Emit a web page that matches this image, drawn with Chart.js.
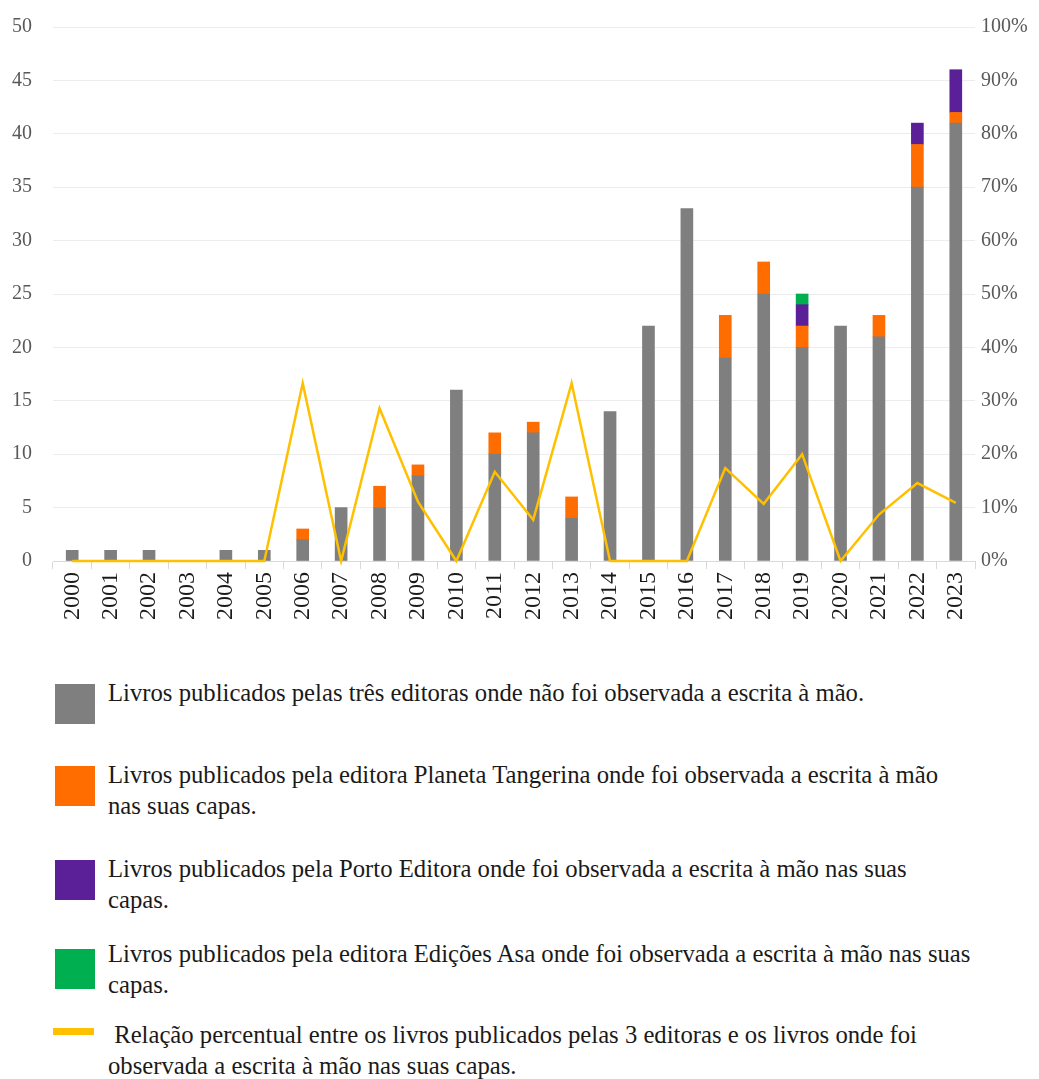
<!DOCTYPE html>
<html>
<head>
<meta charset="utf-8">
<script src="https://cdn.jsdelivr.net/npm/chart.js@4/dist/chart.umd.min.js"></script>
<style>
  body { margin: 0; background: #fff; font-family: "Liberation Serif", "Times New Roman", serif; }
  #wrap { position: relative; width: 1039px; height: 1079px; overflow: hidden; }
  #chart-box { position: absolute; left: 0; top: 0; width: 1039px; height: 640px; }
  .sw { position: absolute; left: 55px; width: 40px; height: 40px; }
  .lt { position: absolute; left: 108px; font-size: 24.7px; line-height: 31px; color: #1a1a1a; white-space: nowrap; }
</style>
</head>
<body>
<div id="wrap">
  <div id="chart-box"><canvas id="c"></canvas></div>

  <div class="sw" style="top:684px;background:#7f7f7f"></div>
  <div class="lt" style="top:677px">Livros publicados pelas três editoras onde não foi observada a escrita à mão.</div>

  <div class="sw" style="top:766px;background:#ff6d00"></div>
  <div class="lt" style="top:759px">Livros publicados pela editora Planeta Tangerina onde foi observada a escrita à mão<br>nas suas capas.</div>

  <div class="sw" style="top:860px;background:#5b1f98"></div>
  <div class="lt" style="top:853px">Livros publicados pela Porto Editora onde foi observada a escrita à mão nas suas<br>capas.</div>

  <div class="sw" style="top:949px;background:#00b050"></div>
  <div class="lt" style="top:938px">Livros publicados pela editora Edições Asa onde foi observada a escrita à mão nas suas<br>capas.</div>

  <div style="position:absolute;left:53px;top:1028px;width:41px;height:7px;background:#ffc000"></div>
  <div class="lt" style="top:1019px">&nbsp;Relação percentual entre os livros publicados pelas 3 editoras e os livros onde foi<br>observada a escrita à mão nas suas capas.</div>
</div>

<script>
const years = ['2000','2001','2002','2003','2004','2005','2006','2007','2008','2009','2010','2011',
  '2012','2013','2014','2015','2016','2017','2018','2019','2020','2021','2022','2023'];

const semEscrita = [1,1,1,0,1,1,2,5,5,8,16,10,12,4,14,22,33,19,25,20,22,21,35,41];
const planetaTangerina = [0,0,0,0,0,0,1,0,2,1,0,2,1,2,0,0,0,4,3,2,0,2,4,1];
const portoEditora = [0,0,0,0,0,0,0,0,0,0,0,0,0,0,0,0,0,0,0,2,0,0,2,4];
const edicoesAsa = [0,0,0,0,0,0,0,0,0,0,0,0,0,0,0,0,0,0,0,1,0,0,0,0];
const percentagem = [0,0,0,0,0,0,33.3,0,28.6,11.1,0,16.7,7.7,33.3,0,0,0,17.4,10.7,20,0,8.7,14.6,10.9];

const leftTicks = [0,5,10,15,20,25,30,35,40,45,50];
const rightTicks = [0,10,20,30,40,50,60,70,80,90,100];

const serif = '"Liberation Serif", "Times New Roman", serif';

// zero segments become null so no hairline shows on top of a bar
function barSet(label, data, color) {
  return {
    type: 'bar', label, data: data.map(v => v || null), backgroundColor: color,
    yAxisID: 'y', stack: 's', order: 1, barThickness: 12
  };
}

// fixed axis sizes so the plot area lands where the original one is
function fixWidth(w) {
  return s => { s.width = w; s.paddingTop = 0; s.paddingBottom = 0; };
}

new Chart(document.getElementById('c'), {
  data: {
    labels: years,
    datasets: [
      {
        type: 'line', label: 'Relação percentual', data: percentagem, yAxisID: 'y1',
        borderColor: '#ffc000', borderWidth: 2.5, pointRadius: 0, tension: 0, order: 0, clip: false
      },
      barSet('Sem escrita à mão', semEscrita, '#7f7f7f'),
      barSet('Planeta Tangerina', planetaTangerina, '#ff6d00'),
      barSet('Porto Editora', portoEditora, '#5b1f98'),
      barSet('Edições Asa', edicoesAsa, '#00b050')
    ]
  },
  options: {
    responsive: true,
    maintainAspectRatio: false,
    animation: false,
    layout: { padding: { top: 27, left: 0, right: 0, bottom: 0 } },
    plugins: { legend: { display: false }, tooltip: { enabled: false } },
    scales: {
      x: {
        stacked: true,
        afterFit: s => { s.height = 79; },
        grid: { display: true, drawOnChartArea: false, offset: true, tickLength: 8, color: '#d9d9d9' },
        border: { color: '#d9d9d9' },
        ticks: { minRotation: 90, maxRotation: 90, padding: 3, color: '#1a1a1a', font: { family: serif, size: 24 } }
      },
      y: {
        stacked: true, position: 'left', min: 0, max: 50,
        afterFit: fixWidth(53),
        afterBuildTicks: s => { s.ticks = leftTicks.map(v => ({ value: v })); },
        grid: { color: '#ececec', drawTicks: false },
        border: { display: false },
        ticks: { padding: 21, color: '#595959', font: { family: serif, size: 20 } }
      },
      y1: {
        position: 'right', min: 0, max: 100,
        afterFit: fixWidth(64),
        afterBuildTicks: s => { s.ticks = rightTicks.map(v => ({ value: v })); },
        grid: { display: false, drawTicks: false },
        border: { display: false },
        ticks: { padding: 6, color: '#595959', font: { family: serif, size: 20 }, callback: v => v + '%' }
      }
    }
  }
});
</script>
</body>
</html>
